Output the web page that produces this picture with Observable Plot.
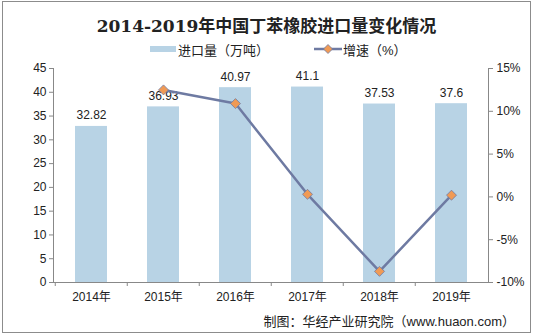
<!DOCTYPE html>
<html><head><meta charset="utf-8">
<script src="https://cdn.jsdelivr.net/npm/d3@7"></script>
<script src="https://cdn.jsdelivr.net/npm/@observablehq/plot@0.6"></script>
<style>
body{margin:0;background:#fff;font-family:"Liberation Sans",Arial,"Noto Sans CJK SC",sans-serif;}
#frame{position:absolute;left:2px;top:1px;width:527px;height:330px;border:1px solid #8c8c8c;}
#title{position:absolute;left:0;top:12px;width:533px;text-align:center;font:bold 17px "DejaVu Serif","Noto Sans CJK SC",serif;color:#222;}
#legend{position:absolute;left:0;top:40px;width:533px;height:18px;font-size:13px;color:#222;font-family:"Liberation Sans","Noto Sans CJK SC",sans-serif;}
#chart{position:absolute;left:0;top:58px;}
#caption{position:absolute;right:18px;top:311px;font-size:13px;color:#222;font-family:"Liberation Sans","Noto Sans CJK SC",sans-serif;}
</style></head>
<body>
<div id="frame"></div>
<div id="title"></div>
<div id="legend"></div>
<div id="chart"></div>
<div id="caption"></div>
<script>
const titleText = "2014-2019年中国丁苯橡胶进口量变化情况";
const captionText = "制图：华经产业研究院（www.huaon.com）";
const barName = "进口量（万吨）";
const lineName = "增速（%）";
const years = ["2014年","2015年","2016年","2017年","2018年","2019年"];
const imports = [32.82, 36.93, 40.97, 41.1, 37.53, 37.6];
const growth = [null, 12.5, 10.9, 0.3, -8.7, 0.2];
const leftTicks = [0,5,10,15,20,25,30,35,40,45];
const rightTicks = [-10,-5,0,5,10,15];

const barColor = "#b8d3e5";
const lineColor = "#6e7aa2";
const dotColor = "#f09a55";

document.getElementById("title").textContent = titleText;
document.getElementById("caption").textContent = captionText;
document.getElementById("legend").innerHTML =
  `<span style="position:absolute;left:150px;top:6px;width:26px;height:6px;background:${barColor}"></span>
   <span style="position:absolute;left:178px;top:0px">${barName}</span>
   <svg style="position:absolute;left:314px;top:2px" width="28" height="14"><line x1="0" y1="7" x2="28" y2="7" stroke="${lineColor}" stroke-width="2.5"/><path d="M14,2.5L18.5,7L14,11.5L9.5,7Z" fill="${dotColor}" stroke="${lineColor}" stroke-width="0.8"/></svg>
   <span style="position:absolute;left:343px;top:0px">${lineName}</span>`;

// secondary axis mapping: right axis [-10,15] onto left axis [0,45]
const rMin = -10, rMax = 15, lMax = 45;
const toLeft = g => (g - rMin) / (rMax - rMin) * lMax;
const toRight = v => Math.round(v / lMax * (rMax - rMin) + rMin);

const data = years.map((y, i) => ({year: y, value: imports[i], g: growth[i]}));
const lineData = data.filter(d => d.g != null);

const chart = Plot.plot({
  width: 533, height: 250,
  marginLeft: 53, marginRight: 45, marginTop: 10, marginBottom: 26,
  style: {fontFamily: '"Liberation Sans", Arial, "Noto Sans CJK SC", sans-serif', fontSize: "12px", color: "#333", background: "transparent"},
  x: {domain: years, paddingInner: 0.56, paddingOuter: 0.28, label: null},
  y: {domain: [0, lMax], label: null},
  marks: [
    Plot.barY(data, {x: "year", y: "value", fill: barColor}),
    Plot.text(data, {x: "year", y: "value", text: d => String(d.value), dy: -11, fill: "#222", fontSize: 12}),
    Plot.frame({anchor: "left", stroke: "#888"}),
    Plot.frame({anchor: "right", stroke: "#888"}),
    Plot.ruleY([0], {stroke: "#888"}),
    Plot.axisY({anchor: "left", ticks: leftTicks, tickSize: 4, tickPadding: 3, stroke: "#888", fill: "#222", label: null}),
    Plot.axisY({anchor: "right", ticks: rightTicks.map(toLeft), tickFormat: v => toRight(v) + "%", tickSize: 4, tickPadding: 4, stroke: "#888", fill: "#222", label: null}),
    Plot.axisX({tickSize: 0, tickPadding: 10, fill: "#222", label: null}),
    Plot.axisX({text: null, tickSize: 4, dx: -36.25, stroke: "#888", label: null}),
    Plot.line(lineData, {x: "year", y: d => toLeft(d.g), stroke: lineColor, strokeWidth: 2.5}),
    Plot.dot(lineData, {x: "year", y: d => toLeft(d.g), symbol: "diamond2", r: 4.5, fill: dotColor, stroke: lineColor, strokeWidth: 0.8})
  ]
});
document.getElementById("chart").appendChild(chart);
</script>
</body></html>
